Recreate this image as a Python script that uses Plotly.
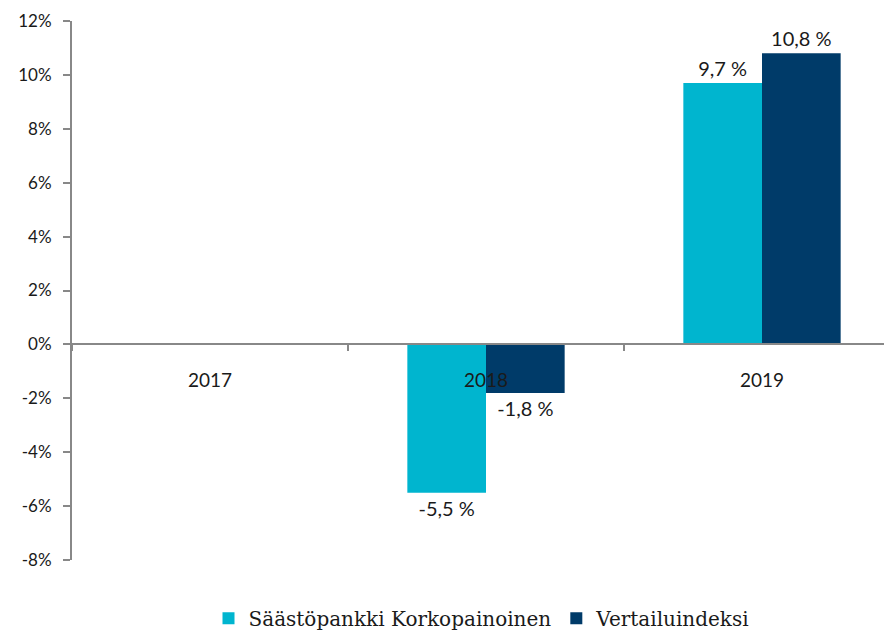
import plotly.graph_objects as go

categories = ["2017", "2018", "2019"]
series_names = ["Säästöpankki Korkopainoinen", "Vertailuindeksi"]
fund_values = [None, -5.5, 9.7]
index_values = [None, -1.8, 10.8]
y_tick_values = [-8, -6, -4, -2, 0, 2, 4, 6, 8, 10, 12]
y_tick_labels = [f"{v}%" for v in y_tick_values]

colors = ["#00B5CF", "#003B69"]


def fmt(v):
    return "" if v is None else f"{v:.1f} %".replace(".", ",")


fig = go.Figure()
for name, vals, col in zip(series_names, [fund_values, index_values], colors):
    fig.add_trace(go.Bar(
        x=categories, y=vals, name=name, marker_color=col,
        marker_line_width=0,
        text=[fmt(v) for v in vals], textposition="outside",
        textfont=dict(family="Lato", size=20, color="#1a1a1a"),
        cliponaxis=False,
    ))

# page body has an 8px default margin; figure is sized to fit the window
fig.update_layout(
    width=884, height=629,
    margin=dict(l=64, r=0, t=13, b=77, autoexpand=False),
    plot_bgcolor="white", paper_bgcolor="white",
    barmode="group", bargap=0.43, bargroupgap=0,
    showlegend=True,
    legend=dict(orientation="h", x=0.5, xanchor="center", y=-0.108, yanchor="middle",
                font=dict(family="DejaVu Serif", size=20, color="#1a1a1a"),
                itemwidth=30, tracegroupgap=0),
    font=dict(family="Lato", size=15, color="#1a1a1a"),
)
fig.update_xaxes(
    type="category", range=[-0.5, 2.471],
    anchor="free", position=0.4, automargin=False,
    showline=True, linecolor="#888888", linewidth=2,
    ticks="outside", tickson="boundaries", ticklen=6, tickcolor="#888888", tickwidth=1.5,
    ticklabelstandoff=19,
    tickfont=dict(family="Lato", size=19, color="#1a1a1a"),
    showgrid=False, zeroline=False,
)
fig.update_yaxes(
    range=[-8, 12], domain=[0, 1], automargin=False,
    tickvals=y_tick_values, ticktext=y_tick_labels,
    showline=True, linecolor="#888888", linewidth=2,
    ticks="outside", ticklen=7, tickcolor="#888888", tickwidth=1.5,
    showgrid=False, zeroline=False,
    tickfont=dict(family="Lato", size=17, color="#1a1a1a"),
    ticklabelstandoff=8,
)

fig.write_html("out.html")
